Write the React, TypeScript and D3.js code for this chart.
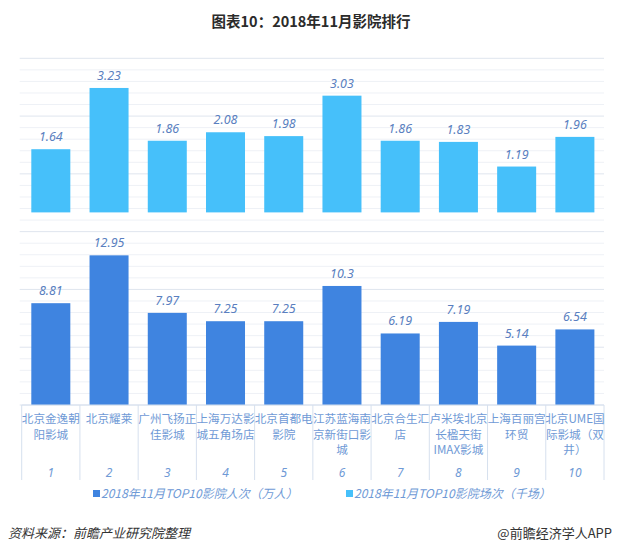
import React from "react";
import * as d3 from "d3";

const categories = ["1", "2", "3", "4", "5", "6", "7", "8", "9", "10"];
const cinemaNameLines: string[][] = [
  ["北京金逸朝", "阳影城"],
  ["北京耀莱"],
  ["广州飞扬正", "佳影城"],
  ["上海万达影", "城五角场店"],
  ["北京首都电", "影院"],
  ["江苏蓝海南", "京新街口影", "城"],
  ["北京合生汇", "店"],
  ["卢米埃北京", "长楹天街", "IMAX影城"],
  ["上海百丽宫", "环贸"],
  ["北京UME国", "际影城（双", "井）"],
];
const attendance = [8.81, 12.95, 7.97, 7.25, 7.25, 10.3, 6.19, 7.19, 5.14, 6.54];
const screenings = [1.64, 3.23, 1.86, 2.08, 1.98, 3.03, 1.86, 1.83, 1.19, 1.96];
const seriesNames = ["2018年11月TOP10影院人次（万人）", "2018年11月TOP10影院场次（千场）"];
const primaryDomain = [0, 30];
const secondaryDomain = [-5, 4];
const gridTicks = d3.range(0, 31, 1);

const W = 622;
const H = 551;
const left = 21.7;
const right = 604;
const top = 58.3;
const bottom = 405;

const darkBlue = "#3f84e0";
const lightBlue = "#46c0fa";
const labelColor = "#5a7fc0";
const catColor = "#6f9ad6";

export default function App() {
  const x = d3.scaleBand<string>().domain(categories).range([left, right]).paddingInner(0.33).paddingOuter(0.165);
  const xOuter = d3.scaleBand<string>().domain(categories).range([left, right]);
  const yP = d3.scaleLinear().domain(primaryDomain).range([bottom, top]);
  const yS = d3.scaleLinear().domain(secondaryDomain).range([bottom, top]);
  const valFont = "'Noto Sans', 'DejaVu Sans', sans-serif";
  const cjk = "'Noto Sans CJK SC', sans-serif";

  return (
    <svg width={W} height={H} style={{ position: "absolute", left: 0, top: 0, background: "#fff" }}>
      <rect x={0} y={0} width={W} height={H} fill="#fff" />
      <text x={311} y={27} textAnchor="middle" fontFamily={cjk} fontWeight="bold" fontSize={14.5} fill="#2b2b2b">
        图表10：2018年11月影院排行
      </text>
      {gridTicks.map((t) => (
        <line
          key={t}
          x1={left - 2}
          x2={right}
          y1={yP(t)}
          y2={yP(t)}
          stroke={t % 5 === 0 ? "#dfe5ee" : "#eef1f6"}
          strokeWidth={1}
        />
      ))}
      {categories.map((c, i) => (
        <g key={"b" + c}>
          <rect x={x(c)} y={yP(attendance[i])} width={x.bandwidth()} height={yP(0) - yP(attendance[i])} fill={darkBlue} />
          <text x={x(c)! + x.bandwidth() / 2} y={yP(attendance[i]) - 8} textAnchor="middle" fontFamily={valFont} fontStyle="italic" fontSize={12.5} fill={labelColor}>
            {attendance[i]}
          </text>
          <rect x={x(c)} y={yS(screenings[i])} width={x.bandwidth()} height={yS(0) - yS(screenings[i])} fill={lightBlue} />
          <text x={x(c)! + x.bandwidth() / 2} y={yS(screenings[i]) - 8} textAnchor="middle" fontFamily={valFont} fontStyle="italic" fontSize={12.5} fill={labelColor}>
            {screenings[i].toFixed(2)}
          </text>
        </g>
      ))}
      {[...categories, "end"].map((c, i) => {
        const xv = i < categories.length ? xOuter(c)! : right;
        return <line key={"v" + i} x1={xv} x2={xv} y1={bottom} y2={480} stroke="#d6e0ee" strokeWidth={1} />;
      })}
      <line x1={left} x2={right} y1={bottom} y2={bottom} stroke="#d6e0ee" strokeWidth={1} />
      {categories.map((c, i) => {
        const cx = xOuter(c)! + xOuter.bandwidth() / 2;
        return (
          <g key={"l" + c}>
            {cinemaNameLines[i].map((ln, j) => (
              <text key={j} x={cx} y={423 + j * 15.5} textAnchor="middle" fontFamily={cjk} fontSize={11.6} fill={catColor}>
                {ln}
              </text>
            ))}
            <text x={cx} y={477} textAnchor="middle" fontFamily={valFont} fontStyle="italic" fontSize={12} fill={catColor}>
              {c}
            </text>
          </g>
        );
      })}
      <rect x={93} y={490} width={7} height={7} fill={darkBlue} />
      <text x={101} y={498} fontFamily={cjk} fontStyle="italic" fontSize={12} fill={catColor}>
        {seriesNames[0]}
      </text>
      <rect x={346} y={490} width={7} height={7} fill={lightBlue} />
      <text x={354} y={498} fontFamily={cjk} fontStyle="italic" fontSize={12} fill={catColor}>
        {seriesNames[1]}
      </text>
      <text x={8} y={538} fontFamily={cjk} fontStyle="italic" fontSize={13} fill="#333">
        资料来源：前瞻产业研究院整理
      </text>
      <text x={612} y={538} textAnchor="end" fontFamily={cjk} fontSize={13} fill="#333">
        @前瞻经济学人APP
      </text>
    </svg>
  );
}
